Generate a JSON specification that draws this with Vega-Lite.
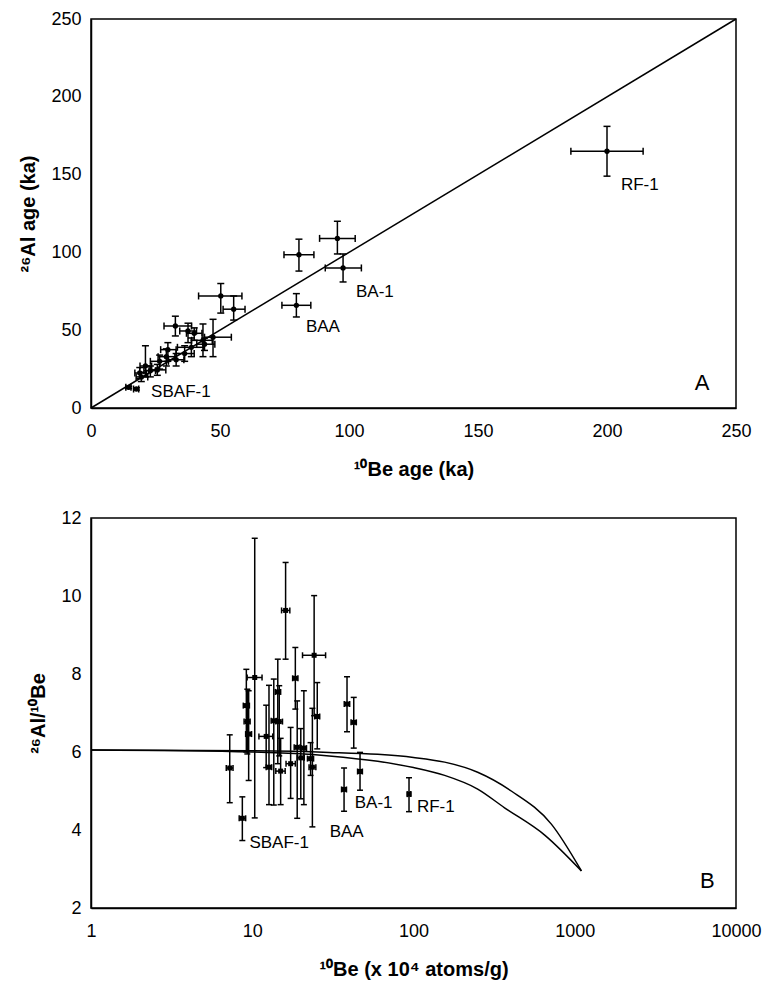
{
  "$schema": "https://vega.github.io/schema/vega-lite/v6.json",
  "padding": {"left": 18, "top": 9, "right": 12, "bottom": 5},
  "background": "white",
  "config": {
    "font": "Liberation Sans",
    "view": {"stroke": "black", "strokeWidth": 1.5},
    "axis": {"grid": false, "ticks": false, "domainColor": "black", "domainWidth": 1.5, "labelFont": "Liberation Sans", "labelFontSize": 18, "labelColor": "black", "titleFont": "Liberation Sans", "titleFontSize": 20, "titleFontWeight": "bold", "titleColor": "black", "labelFlush": false, "labelOverlap": false, "labelBound": false},
    "axisX": {"labelPadding": 14, "titlePadding": 19},
    "axisY": {"labelPadding": 10, "titlePadding": 12}
  },
  "datasets": {
    "a": [
      {"x": 200, "xlo": 186, "xhi": 214, "y": 165, "ylo": 149, "yhi": 181},
      {"x": 95.5, "xlo": 88.6, "xhi": 102.4, "y": 109, "ylo": 99, "yhi": 120},
      {"x": 97.7, "xlo": 90.8, "xhi": 104.8, "y": 90, "ylo": 81, "yhi": 99},
      {"x": 80.6, "xlo": 74.8, "xhi": 86.4, "y": 98.5, "ylo": 88, "yhi": 108.5},
      {"x": 79.6, "xlo": 74, "xhi": 85.2, "y": 66, "ylo": 58.5, "yhi": 73.5},
      {"x": 55.3, "xlo": 51.2, "xhi": 59.7, "y": 63.5, "ylo": 56.5, "yhi": 72},
      {"x": 50.3, "xlo": 41.7, "xhi": 58.5, "y": 72, "ylo": 61, "yhi": 80},
      {"x": 32.7, "xlo": 28.3, "xhi": 39, "y": 52.7, "ylo": 46.3, "yhi": 59},
      {"x": 37.6, "xlo": 34.4, "xhi": 40.9, "y": 49.5, "ylo": 42, "yhi": 54.5},
      {"x": 40, "xlo": 37, "xhi": 43, "y": 48, "ylo": 43.5, "yhi": 51.5},
      {"x": 47.3, "xlo": 44, "xhi": 54.4, "y": 45.5, "ylo": 33, "yhi": 57},
      {"x": 43.4, "xlo": 39, "xhi": 47, "y": 43.5, "ylo": 33, "yhi": 54},
      {"x": 38.9, "xlo": 33.5, "xhi": 43.6, "y": 39, "ylo": 33, "yhi": 45},
      {"x": 36.3, "xlo": 33, "xhi": 40, "y": 35, "ylo": 30, "yhi": 40},
      {"x": 29.8, "xlo": 27, "xhi": 33, "y": 37.5, "ylo": 30, "yhi": 42},
      {"x": 29.2, "xlo": 26, "xhi": 32.5, "y": 33, "ylo": 27, "yhi": 38},
      {"x": 26.6, "xlo": 23, "xhi": 30, "y": 30, "ylo": 25, "yhi": 34},
      {"x": 21.1, "xlo": 19, "xhi": 23.5, "y": 27, "ylo": 20, "yhi": 40},
      {"x": 25.7, "xlo": 22.5, "xhi": 29, "y": 24.5, "ylo": 21, "yhi": 28},
      {"x": 18.9, "xlo": 17, "xhi": 21.5, "y": 22.5, "ylo": 19, "yhi": 26},
      {"x": 19.5, "xlo": 17.5, "xhi": 22, "y": 20, "ylo": 17, "yhi": 23},
      {"x": 14.6, "xlo": 13.5, "xhi": 15.5, "y": 13.3, "ylo": 12.5, "yhi": 14},
      {"x": 17.6, "xlo": 16.5, "xhi": 18.5, "y": 12.2, "ylo": 11.5, "yhi": 13},
      {"x": 33, "xlo": 30, "xhi": 36, "y": 31, "ylo": 27, "yhi": 35},
      {"x": 44, "xlo": 41, "xhi": 48, "y": 41, "ylo": 37, "yhi": 45},
      {"x": 23, "xlo": 20.5, "xhi": 25, "y": 24, "ylo": 20, "yhi": 27}
    ],
    "aline": [{"x": 0, "y": 0}, {"x": 250, "y": 250}],
    "alabels": [
      {"x": 23.3, "y": 10.5, "t": "SBAF-1", "size": 17},
      {"x": 83.3, "y": 52.2, "t": "BAA", "size": 17},
      {"x": 102.7, "y": 74.7, "t": "BA-1", "size": 17},
      {"x": 205.4, "y": 143.3, "t": "RF-1", "size": 17},
      {"x": 234, "y": 16, "t": "A", "size": 22}
    ],
    "b": [
      {"x": 7.25, "xlo": 6.9, "xhi": 7.6, "y": 5.59, "ylo": 4.7, "yhi": 6.44},
      {"x": 8.68, "xlo": 8.3, "xhi": 9.1, "y": 4.3, "ylo": 3.73, "yhi": 4.85},
      {"x": 9.19, "xlo": 8.8, "xhi": 9.6, "y": 7.19, "ylo": 6.0, "yhi": 8.12},
      {"x": 9.32, "xlo": 8.9, "xhi": 9.7, "y": 6.78, "ylo": 5.95, "yhi": 7.61},
      {"x": 9.5, "xlo": 9.1, "xhi": 9.9, "y": 6.46, "ylo": 5.27, "yhi": 7.57},
      {"x": 10.36, "xlo": 9.3, "xhi": 11.5, "y": 7.91, "ylo": 4.31, "yhi": 11.48},
      {"x": 12.2, "xlo": 11.0, "xhi": 13.4, "y": 6.4, "ylo": 5.6, "yhi": 7.2},
      {"x": 12.7, "xlo": 12.2, "xhi": 13.2, "y": 5.61, "ylo": 4.65, "yhi": 7.71},
      {"x": 13.6, "xlo": 13.1, "xhi": 14.1, "y": 6.8, "ylo": 4.64, "yhi": 7.87},
      {"x": 14.4, "xlo": 13.9, "xhi": 15.0, "y": 7.54, "ylo": 5.7, "yhi": 8.38},
      {"x": 14.7, "xlo": 14.0, "xhi": 15.4, "y": 6.78, "ylo": 5.9, "yhi": 7.7},
      {"x": 15.0, "xlo": 14.0, "xhi": 16.0, "y": 5.51, "ylo": 4.65, "yhi": 6.35},
      {"x": 16.1, "xlo": 15.2, "xhi": 17.1, "y": 9.63, "ylo": 8.38, "yhi": 10.86},
      {"x": 17.3, "xlo": 16.2, "xhi": 18.5, "y": 5.7, "ylo": 4.81, "yhi": 6.63},
      {"x": 18.5, "xlo": 17.8, "xhi": 19.2, "y": 7.89, "ylo": 7.1, "yhi": 8.68},
      {"x": 19.0, "xlo": 18.2, "xhi": 19.8, "y": 6.12, "ylo": 4.3, "yhi": 7.31},
      {"x": 20.0, "xlo": 19.0, "xhi": 21.0, "y": 5.85, "ylo": 4.8, "yhi": 6.6},
      {"x": 20.9, "xlo": 20.1, "xhi": 21.7, "y": 6.1, "ylo": 4.65, "yhi": 7.57},
      {"x": 23.0, "xlo": 22.0, "xhi": 24.0, "y": 5.83, "ylo": 5.4, "yhi": 6.24},
      {"x": 23.6, "xlo": 22.5, "xhi": 24.8, "y": 5.61, "ylo": 4.08, "yhi": 7.12},
      {"x": 24.2, "xlo": 20.5, "xhi": 28.5, "y": 8.48, "ylo": 6.93, "yhi": 10.01},
      {"x": 25.3, "xlo": 24.4, "xhi": 26.2, "y": 6.91, "ylo": 6.08, "yhi": 7.78},
      {"x": 38.7, "xlo": 37.2, "xhi": 40.2, "y": 7.23, "ylo": 6.52, "yhi": 7.93},
      {"x": 42.6, "xlo": 41.0, "xhi": 44.2, "y": 6.76, "ylo": 6.1, "yhi": 7.4},
      {"x": 37.1, "xlo": 35.8, "xhi": 38.4, "y": 5.04, "ylo": 4.48, "yhi": 5.59},
      {"x": 46.6, "xlo": 45.0, "xhi": 48.2, "y": 5.5, "ylo": 5.02, "yhi": 5.99},
      {"x": 93.8, "xlo": 91.5, "xhi": 96.2, "y": 4.92, "ylo": 4.47, "yhi": 5.34}
    ],
    "bcurve": [
      {"c": "upper", "x": 1, "y": 6.05},
      {"c": "upper", "x": 10, "y": 6.03},
      {"c": "upper", "x": 30, "y": 5.99},
      {"c": "upper", "x": 60, "y": 5.94},
      {"c": "upper", "x": 100, "y": 5.86},
      {"c": "upper", "x": 156, "y": 5.74},
      {"c": "upper", "x": 250, "y": 5.48},
      {"c": "upper", "x": 404, "y": 5.0},
      {"c": "upper", "x": 716, "y": 4.15},
      {"c": "upper", "x": 1100, "y": 2.95},
      {"c": "lower", "x": 1, "y": 6.05},
      {"c": "lower", "x": 10, "y": 6.0},
      {"c": "lower", "x": 30, "y": 5.9},
      {"c": "lower", "x": 60, "y": 5.76},
      {"c": "lower", "x": 100, "y": 5.6},
      {"c": "lower", "x": 156, "y": 5.4},
      {"c": "lower", "x": 250, "y": 5.05},
      {"c": "lower", "x": 367, "y": 4.57},
      {"c": "lower", "x": 651, "y": 3.87},
      {"c": "lower", "x": 1100, "y": 2.95}
    ],
    "blabels": [
      {"x": 9.6, "y": 3.66, "t": "SBAF-1", "size": 17},
      {"x": 30.2, "y": 3.96, "t": "BAA", "size": 17},
      {"x": 43.2, "y": 4.68, "t": "BA-1", "size": 17},
      {"x": 105, "y": 4.6, "t": "RF-1", "size": 17},
      {"x": 5980, "y": 2.69, "t": "B", "size": 22}
    ]
  },
  "vconcat": [
    {
      "width": 645,
      "height": 389,
      "encoding": {
        "x": {"type": "quantitative", "scale": {"domain": [0, 250], "nice": false}, "axis": {"title": "¹⁰Be age (ka)", "values": [0, 50, 100, 150, 200, 250]}},
        "y": {"type": "quantitative", "scale": {"domain": [0, 250], "nice": false}, "axis": {"title": "²⁶Al age (ka)", "values": [0, 50, 100, 150, 200, 250]}}
      },
      "layer": [
        {
          "data": {"name": "aline"},
          "mark": {"type": "line", "color": "black", "strokeWidth": 1.5},
          "encoding": {"x": {"field": "x"}, "y": {"field": "y"}}
        },
        {
          "data": {"name": "a"},
          "mark": {"type": "rule", "color": "black", "strokeWidth": 1.5},
          "encoding": {"x": {"field": "xlo"}, "x2": {"field": "xhi"}, "y": {"field": "y"}}
        },
        {
          "data": {"name": "a"},
          "mark": {"type": "rule", "color": "black", "strokeWidth": 1.5},
          "encoding": {"x": {"field": "x"}, "y": {"field": "ylo"}, "y2": {"field": "yhi"}}
        },
        {
          "data": {"name": "a"},
          "mark": {"type": "tick", "orient": "vertical", "color": "black", "size": 7, "thickness": 1.5, "opacity": 1},
          "encoding": {"x": {"field": "xlo"}, "y": {"field": "y"}}
        },
        {
          "data": {"name": "a"},
          "mark": {"type": "tick", "orient": "vertical", "color": "black", "size": 7, "thickness": 1.5, "opacity": 1},
          "encoding": {"x": {"field": "xhi"}, "y": {"field": "y"}}
        },
        {
          "data": {"name": "a"},
          "mark": {"type": "tick", "orient": "horizontal", "color": "black", "size": 7, "thickness": 1.5, "opacity": 1},
          "encoding": {"x": {"field": "x"}, "y": {"field": "ylo"}}
        },
        {
          "data": {"name": "a"},
          "mark": {"type": "tick", "orient": "horizontal", "color": "black", "size": 7, "thickness": 1.5, "opacity": 1},
          "encoding": {"x": {"field": "x"}, "y": {"field": "yhi"}}
        },
        {
          "data": {"name": "a"},
          "mark": {"type": "circle", "color": "black", "size": 28, "opacity": 1},
          "encoding": {"x": {"field": "x"}, "y": {"field": "y"}}
        },
        {
          "data": {"name": "alabels"},
          "mark": {"type": "text", "color": "black", "align": "left", "baseline": "middle", "font": "Liberation Sans"},
          "encoding": {
            "x": {"field": "x"},
            "y": {"field": "y"},
            "text": {"field": "t"},
            "size": {"field": "size", "type": "quantitative", "scale": null, "legend": null}
          }
        }
      ]
    },
    {
      "width": 645,
      "height": 390,
      "encoding": {
        "x": {"type": "quantitative", "scale": {"type": "log", "domain": [1, 10000], "nice": false}, "axis": {"title": "¹⁰Be (x 10⁴ atoms/g)", "values": [1, 10, 100, 1000, 10000], "format": "d"}},
        "y": {"type": "quantitative", "scale": {"domain": [2, 12], "nice": false, "zero": false}, "axis": {"title": "²⁶Al/¹⁰Be", "values": [2, 4, 6, 8, 10, 12]}}
      },
      "layer": [
        {
          "data": {"name": "bcurve"},
          "mark": {"type": "line", "color": "black", "strokeWidth": 1.5, "interpolate": "monotone"},
          "encoding": {"x": {"field": "x"}, "y": {"field": "y"}, "detail": {"field": "c"}}
        },
        {
          "data": {"name": "b"},
          "mark": {"type": "rule", "color": "black", "strokeWidth": 1.5},
          "encoding": {"x": {"field": "xlo"}, "x2": {"field": "xhi"}, "y": {"field": "y"}}
        },
        {
          "data": {"name": "b"},
          "mark": {"type": "rule", "color": "black", "strokeWidth": 1.5},
          "encoding": {"x": {"field": "x"}, "y": {"field": "ylo"}, "y2": {"field": "yhi"}}
        },
        {
          "data": {"name": "b"},
          "mark": {"type": "tick", "orient": "vertical", "color": "black", "size": 6, "thickness": 1.5, "opacity": 1},
          "encoding": {"x": {"field": "xlo"}, "y": {"field": "y"}}
        },
        {
          "data": {"name": "b"},
          "mark": {"type": "tick", "orient": "vertical", "color": "black", "size": 6, "thickness": 1.5, "opacity": 1},
          "encoding": {"x": {"field": "xhi"}, "y": {"field": "y"}}
        },
        {
          "data": {"name": "b"},
          "mark": {"type": "tick", "orient": "horizontal", "color": "black", "size": 6, "thickness": 1.5, "opacity": 1},
          "encoding": {"x": {"field": "x"}, "y": {"field": "ylo"}}
        },
        {
          "data": {"name": "b"},
          "mark": {"type": "tick", "orient": "horizontal", "color": "black", "size": 6, "thickness": 1.5, "opacity": 1},
          "encoding": {"x": {"field": "x"}, "y": {"field": "yhi"}}
        },
        {
          "data": {"name": "b"},
          "mark": {"type": "square", "color": "black", "size": 25, "opacity": 1},
          "encoding": {"x": {"field": "x"}, "y": {"field": "y"}}
        },
        {
          "data": {"name": "blabels"},
          "mark": {"type": "text", "color": "black", "align": "left", "baseline": "middle", "font": "Liberation Sans"},
          "encoding": {
            "x": {"field": "x"},
            "y": {"field": "y"},
            "text": {"field": "t"},
            "size": {"field": "size", "type": "quantitative", "scale": null, "legend": null}
          }
        }
      ]
    }
  ],
  "spacing": 28
}
